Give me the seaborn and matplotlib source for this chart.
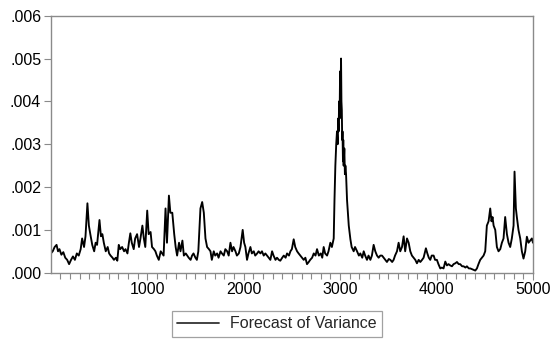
import numpy as np
import pandas as pd
import matplotlib
matplotlib.use("Agg")
import matplotlib.pyplot as plt
from matplotlib.ticker import MultipleLocator, FuncFormatter
import seaborn as sns

# Conditional variance forecast, observation index and value
obs = [
    1, 20, 40, 60, 75, 90, 110, 130, 150, 170, 190, 210, 230, 250, 270, 290,
    310, 325, 345, 360, 380, 395, 410, 430, 450, 465, 480, 505, 520, 535, 550,
    570, 590, 605, 620, 640, 655, 675, 690, 705, 720, 740, 760, 775, 795, 810,
    825, 840, 860, 875, 895, 915, 930, 950, 965, 980, 1000, 1015, 1035, 1050,
    1070, 1085, 1100, 1120, 1140, 1155, 1170, 1190, 1205, 1225, 1240, 1260,
    1280, 1295, 1310, 1330, 1345, 1365, 1380, 1400, 1415, 1430, 1450, 1465,
    1480, 1500, 1515, 1530, 1552, 1570, 1587, 1604, 1621, 1640, 1656, 1670,
    1690, 1705, 1725, 1740, 1760, 1775, 1794, 1810, 1829, 1845, 1863, 1880,
    1895, 1915, 1930, 1950, 1967, 1990, 2005, 2018, 2035, 2050, 2070, 2085,
    2105, 2120, 2140, 2155, 2174, 2190, 2208, 2225, 2243, 2260, 2277, 2295,
    2310, 2330, 2346, 2365, 2380, 2400, 2416, 2435, 2450, 2470, 2485, 2500,
    2519, 2535, 2554, 2570, 2588, 2605, 2623, 2640, 2657, 2675, 2690, 2710,
    2727, 2745, 2761, 2780, 2800, 2815, 2830, 2845, 2865, 2880, 2899, 2915,
    2934, 2942, 2951, 2960, 2968, 2975, 2980, 2985, 2990, 2995, 3000, 3005,
    3010, 3014, 3018, 3022, 3025, 3030, 3033, 3037, 3044, 3050, 3055, 3062,
    3072, 3090, 3107, 3120, 3141, 3155, 3176, 3195, 3210,
    3230, 3245, 3260, 3279, 3295, 3314, 3330, 3348, 3365, 3383, 3400, 3417,
    3435, 3452, 3470, 3486, 3505, 3521, 3540, 3555, 3570, 3590, 3607, 3624,
    3642, 3659, 3675, 3694, 3711, 3728, 3745, 3763, 3780, 3797, 3815, 3832,
    3850, 3866, 3890, 3905, 3920, 3935, 3950, 3970, 3985, 4004, 4020, 4039,
    4055, 4073, 4091, 4108, 4125, 4142, 4160, 4177, 4195, 4212, 4230, 4246,
    4265, 4281, 4300, 4315, 4335, 4350, 4370, 4390, 4402, 4419, 4435, 4453,
    4470, 4488, 4505, 4522, 4540, 4557, 4570, 4581, 4592, 4609, 4626, 4643,
    4661, 4678, 4695, 4712, 4730, 4747, 4764, 4781, 4799, 4809, 4823, 4833,
    4850, 4868, 4885, 4902, 4920, 4937, 4954, 4971, 4989, 5000,
]
variance = [
    0.00045, 0.00050, 0.00060, 0.00065, 0.00050, 0.00055, 0.00042, 0.00048,
    0.00035, 0.00030, 0.00020, 0.00030, 0.00038, 0.00030, 0.00045, 0.00040,
    0.00055, 0.00080, 0.00060, 0.00085, 0.00162, 0.00110, 0.00090, 0.00065,
    0.00050, 0.00070, 0.00065, 0.00123, 0.00085, 0.00090, 0.00070, 0.00050,
    0.00060, 0.00045, 0.00040, 0.00035, 0.00030, 0.00035, 0.00028, 0.00065,
    0.00055, 0.00060, 0.00050, 0.00055, 0.00045, 0.00070, 0.00092, 0.00070,
    0.00055, 0.00080, 0.00090, 0.00060, 0.00080, 0.00110, 0.00080, 0.00060,
    0.00145, 0.00090, 0.00095, 0.00060, 0.00055, 0.00050, 0.00040, 0.00030,
    0.00050, 0.00045, 0.00040, 0.00150, 0.00070, 0.00180, 0.00140, 0.00140,
    0.00090, 0.00060, 0.00040, 0.00070, 0.00050, 0.00075, 0.00040, 0.00045,
    0.00040, 0.00035, 0.00030, 0.00040, 0.00045, 0.00035, 0.00030, 0.00050,
    0.00150, 0.00165, 0.00140, 0.00080, 0.00060, 0.00055, 0.00050, 0.00030,
    0.00050, 0.00040, 0.00045, 0.00035, 0.00050, 0.00045, 0.00040, 0.00055,
    0.00050, 0.00040, 0.00070, 0.00050, 0.00060, 0.00050, 0.00040, 0.00045,
    0.00060, 0.00100, 0.00070, 0.00060, 0.00030, 0.00045, 0.00060, 0.00045,
    0.00050, 0.00040, 0.00045, 0.00050, 0.00045, 0.00050, 0.00040, 0.00045,
    0.00040, 0.00035, 0.00030, 0.00050, 0.00040, 0.00030, 0.00035, 0.00030,
    0.00028, 0.00035, 0.00040, 0.00035, 0.00045, 0.00040, 0.00050, 0.00055,
    0.00078, 0.00060, 0.00050, 0.00045, 0.00040, 0.00035, 0.00030, 0.00035,
    0.00020, 0.00025, 0.00030, 0.00035, 0.00045, 0.00040, 0.00055, 0.00040,
    0.00045, 0.00035, 0.00060, 0.00045, 0.00040, 0.00050, 0.00070, 0.00060,
    0.00080, 0.00170, 0.00250, 0.00300, 0.00330, 0.00300, 0.00360, 0.00330,
    0.00400, 0.00360, 0.00470, 0.00420, 0.00500, 0.00400, 0.00380, 0.00310,
    0.00330, 0.00260, 0.00310, 0.00250, 0.00290, 0.00230, 0.00250, 0.00230,
    0.00170,
    0.00110, 0.00078, 0.00060, 0.00050, 0.00060, 0.00050, 0.00040, 0.00045,
    0.00035, 0.00050, 0.00040, 0.00030, 0.00040, 0.00030, 0.00040, 0.00065,
    0.00050, 0.00040, 0.00035, 0.00040, 0.00040, 0.00035, 0.00030, 0.00025,
    0.00032, 0.00030, 0.00025, 0.00030, 0.00040, 0.00050, 0.00070, 0.00050,
    0.00060, 0.00085, 0.00050, 0.00080, 0.00070, 0.00050, 0.00040, 0.00035,
    0.00030, 0.00022, 0.00030, 0.00025, 0.00030, 0.00035, 0.00057, 0.00045,
    0.00035, 0.00030, 0.00040, 0.00040, 0.00030, 0.00030, 0.00020, 0.00010,
    0.00012, 0.00010, 0.00026, 0.00017, 0.00020, 0.00017, 0.00015, 0.00020,
    0.00022, 0.00025, 0.00020, 0.00020, 0.00015, 0.00015, 0.00012, 0.00015,
    0.00010, 0.00010, 0.00008, 0.00006, 0.00005, 0.00010, 0.00020, 0.00030,
    0.00035, 0.00040, 0.00050, 0.00110, 0.00120, 0.00150, 0.00120, 0.00130,
    0.00110, 0.00100, 0.00060, 0.00050, 0.00055, 0.00070, 0.00080, 0.00130,
    0.00090, 0.00070, 0.00060, 0.00080, 0.00110, 0.00236, 0.00150, 0.00130,
    0.00100, 0.00080, 0.00050, 0.00033, 0.00050, 0.00084, 0.00070, 0.00075,
    0.00080, 0.00070,
]
series_label = "Forecast of Variance"
y_ticks = [0.000, 0.001, 0.002, 0.003, 0.004, 0.005, 0.006]
x_ticks = [1000, 2000, 3000, 4000, 5000]

df = pd.DataFrame({"obs": obs, "variance": variance})

sns.set_theme(style="ticks")
plt.rcParams["font.family"] = ["Liberation Sans", "DejaVu Sans"]

fig = plt.figure(figsize=(5.5, 3.49), dpi=100)
ax = fig.add_axes([0.0925, 0.2186, 0.8765, 0.7364])

sns.lineplot(data=df, x="obs", y="variance", ax=ax, color="black",
             linewidth=1.35, sort=False, label=series_label)

ax.set_xlim(1, 5000)
ax.set_ylim(0, 0.006)
ax.set_xticks(x_ticks)
ax.xaxis.set_minor_locator(MultipleLocator(100))
ax.set_yticks(y_ticks)
ax.yaxis.set_major_formatter(FuncFormatter(lambda v, p: f"{v:.3f}".lstrip("0")))
ax.set_xlabel("")
ax.set_ylabel("")

frame_col = "#8a8a8a"
for s in ax.spines.values():
    s.set_color(frame_col)
    s.set_linewidth(1.0)
ax.tick_params(axis="both", which="both", direction="out", color=frame_col,
               width=0.8, labelsize=11.5, labelcolor="black", pad=2)
ax.tick_params(axis="x", which="major", length=5)
ax.tick_params(axis="x", which="minor", length=4)
ax.tick_params(axis="y", which="major", length=5)

leg = ax.legend(loc="center", bbox_to_anchor=(0.5035, 0.072),
                bbox_transform=fig.transFigure, frameon=True, fancybox=False,
                fontsize=11.5, handlelength=2.6, borderpad=0.35,
                handletextpad=0.7, edgecolor=frame_col)
leg.get_frame().set_linewidth(0.9)
for h in leg.get_lines():
    h.set_color("#333333")
    h.set_linewidth(1.3)

fig.savefig("out.png", dpi=100)
